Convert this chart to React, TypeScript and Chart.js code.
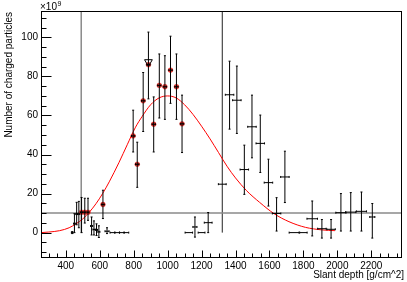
import React, { useEffect, useRef } from 'react';
import { Chart, registerables } from 'chart.js';

Chart.register(...registerables);

// ---- axis ranges & tick labels ----
const X_MIN = 254;
const X_MAX = 2378;
const Y_MIN = -13;
const Y_MAX = 113.5;
const xTickValues = [400, 600, 800, 1000, 1200, 1400, 1600, 1800, 2000, 2200];
const yTickValues = [0, 20, 40, 60, 80, 100];
const xMinorStep = 50;
const yMinorStep = 5;
const xTitle = 'Slant depth [g/cm^2]';
const yTitle = 'Number of charged particles';

// ---- black points (no marker): x, y, x half-error, y lower bound, y upper bound ----
const blackX = [438, 451, 464, 477, 552, 566, 581, 595, 643, 675, 703, 730, 757, 1125, 1161, 1200, 1239, 1322, 1365, 1408, 1452, 1497, 1546, 1594, 1642, 1691, 1745, 1800, 1852, 1909, 1963, 2021, 2079, 2142, 2206];
const blackY = [0, 4.6, 9.5, 9.5, 3.4, 1.6, 1.4, 0.4, 0.7, 0, 0, 0, 0, 0, 2.9, 0, 5.1, 24.8, 70.6, 67.8, 32.3, 54.2, 45.7, 25.6, 9.8, 28.5, 0, 0, 7.1, 2.0, 1.7, 10.2, 10.5, 10.9, 8];
const blackXErr = [5, 5, 5, 5, 6, 6, 6, 6, 12, 14, 14, 14, 14, 22, 12, 20, 23, 23, 25, 25, 25, 25, 25, 25, 25, 25, 29, 22, 31, 25, 25, 30, 30, 30, 15];
const blackYLow = [-0.5, 0, 4, 2.5, -1.2, -1.2, -1.5, -2.5, -0.5, 0, 0, 0, 0, 0, -2.3, 0, 0, 24.8, 53, 50.8, 19.6, 38.3, 30.8, 13.6, 0.8, 15.4, 0, 0, -1.7, -2.8, -2.8, 0.8, 0.8, 0.8, -2.8];
const blackYHigh = [0.5, 9.7, 15.5, 16, 8, 6, 4.5, 3.5, 2.5, 0, 0, 0, 0, 0, 8, 0, 10.3, 24.8, 87.8, 85.3, 44.8, 70.4, 60.2, 37.6, 17.9, 41.7, 0, 0, 16.2, 6.7, 6.7, 20, 20.5, 20.8, 14.9];

// ---- red points (selected, red marker) ----
const redX = [493, 512, 531, 619, 797, 821, 856, 887, 918, 951, 984, 1017, 1052, 1085];
const redY = [10.4, 10.4, 10.4, 14.4, 49.5, 35, 67.5, 86.0, 55.5, 75.4, 74.7, 83.2, 74.7, 55.7];
const redXErr = [6, 6, 6, 8, 10, 10, 10, 10, 10, 10, 10, 10, 10, 10];
const redYLow = [0, 4.9, 6.3, 7.2, 41.3, 23.2, 51.8, 68.5, 41.3, 58.7, 58, 66.2, 58, 41];
const redYHigh = [18, 17.6, 17.6, 21.7, 62.7, 46.3, 82, 102.7, 69.5, 91.5, 90.6, 100.6, 91.5, 70.4];

// ---- open triangle marker ----
const triX = [887];
const triY = [87.4];

// ---- fitted curve ----
const fitX = [254, 300, 364, 420, 460, 500, 539, 578, 617, 656, 714, 762, 811, 850, 900, 950, 1000, 1050, 1100, 1150, 1200, 1250, 1300, 1350, 1400, 1465, 1542, 1629, 1715, 1812, 1908, 1986];
const fitY = [0, 0.3, 1, 2.5, 4.5, 7, 10.5, 14.8, 20, 26, 36, 45, 54, 59.5, 65.5, 69, 70, 69, 65.5, 60.5, 54.5, 48, 41, 34, 28, 21.5, 15.5, 9.6, 5.6, 2.7, 1.4, 1.0];

// ---- cut lines ----
const cutLineY = 10;
const cutLineX1 = 491;
const cutLineX2 = 1322;
const cutLineBottom = 0;

const FONT = '"Liberation Sans", Arial, Helvetica, sans-serif';

function makePoints(xs: number[], ys: number[], xe: number[], yl: number[], yh: number[]) {
  return xs.map((x, i) => ({ x, y: ys[i], xe: xe[i], yl: yl[i], yh: yh[i] }));
}

const rootPlugin = {
  id: 'rootStyle',
  afterDatasetsDraw(chart: any) {
    const { ctx, chartArea: ca, scales } = chart;
    const xs = scales.x;
    const ys = scales.y;

    // error bars
    ctx.save();
    ctx.beginPath();
    ctx.rect(ca.left, ca.top, ca.right - ca.left, ca.bottom - ca.top);
    ctx.clip();
    ctx.strokeStyle = '#000';
    ctx.lineWidth = 1;
    chart.data.datasets.forEach((ds: any) => {
      if (!ds.errorBars) return;
      ds.data.forEach((p: any) => {
        const px = xs.getPixelForValue(p.x);
        const py = ys.getPixelForValue(p.y);
        const x1 = xs.getPixelForValue(p.x - p.xe);
        const x2 = xs.getPixelForValue(p.x + p.xe);
        const y1 = ys.getPixelForValue(p.yl);
        const y2 = ys.getPixelForValue(p.yh);
        ctx.beginPath();
        ctx.moveTo(x1, py);
        ctx.lineTo(x2, py);
        if (Math.abs(y1 - y2) > 0.5) {
          ctx.moveTo(px, y1);
          ctx.lineTo(px, y2);
          ctx.moveTo(px - 1, y1);
          ctx.lineTo(px + 1, y1);
          ctx.moveTo(px - 1, y2);
          ctx.lineTo(px + 1, y2);
        }
        ctx.moveTo(x1, py - 1);
        ctx.lineTo(x1, py + 1);
        ctx.moveTo(x2, py - 1);
        ctx.lineTo(x2, py + 1);
        ctx.stroke();
      });
    });
    ctx.restore();

    // frame
    const L = Math.round(ca.left) + 0.5;
    const R = Math.round(ca.right) - 0.5;
    const T = Math.round(ca.top) + 0.5;
    const B = Math.round(ca.bottom) - 0.5;
    ctx.save();
    ctx.strokeStyle = '#000';
    ctx.lineWidth = 1;
    ctx.strokeRect(L, T, R - L, B - T);

    // x ticks
    ctx.beginPath();
    for (let v = Math.ceil(X_MIN / xMinorStep) * xMinorStep; v <= X_MAX; v += xMinorStep) {
      const px = Math.round(xs.getPixelForValue(v)) + 0.5;
      const major = xTickValues.includes(v);
      ctx.moveTo(px, B);
      ctx.lineTo(px, B - (major ? 7 : 4));
    }
    // y ticks
    for (let v = Math.ceil(Y_MIN / yMinorStep) * yMinorStep; v <= Y_MAX; v += yMinorStep) {
      const py = Math.round(ys.getPixelForValue(v)) + 0.5;
      const major = yTickValues.includes(v);
      ctx.moveTo(L, py);
      ctx.lineTo(L + (major ? 10 : 5), py);
    }
    ctx.stroke();

    // titles
    ctx.fillStyle = '#000';
    ctx.font = `10px ${FONT}`;
    ctx.textAlign = 'right';
    ctx.textBaseline = 'alphabetic';
    ctx.fillText(xTitle, 404, 278);

    ctx.save();
    ctx.translate(9, 12);
    ctx.rotate(-Math.PI / 2);
    ctx.textAlign = 'right';
    ctx.textBaseline = 'middle';
    ctx.fillText(yTitle, 0, 0);
    ctx.restore();

    // exponent label
    ctx.textAlign = 'left';
    ctx.textBaseline = 'alphabetic';
    ctx.font = `10px ${FONT}`;
    ctx.fillText('\u00d710', 40, 10);
    const w = ctx.measureText('\u00d710').width;
    ctx.font = `7px ${FONT}`;
    ctx.fillText('9', 40 + w + 0.5, 6);
    ctx.restore();
  },
};

export default function App() {
  const ref = useRef<HTMLCanvasElement | null>(null);

  useEffect(() => {
    document.body.style.margin = '0';
    const canvas = ref.current;
    if (!canvas) return;

    const blackPts = makePoints(blackX, blackY, blackXErr, blackYLow, blackYHigh);
    const redPts = makePoints(redX, redY, redXErr, redYLow, redYHigh);
    const triPts = triX.map((x, i) => ({ x, y: triY[i] }));
    const fitPts = fitX.map((x, i) => ({ x, y: fitY[i] }));

    const chart = new Chart(canvas, {
      type: 'scatter',
      data: {
        datasets: [
          {
            label: 'triangle',
            data: triPts,
            pointStyle: 'triangle',
            rotation: 180,
            pointRadius: 4.5,
            pointBackgroundColor: 'rgba(0,0,0,0)',
            pointBorderColor: '#000',
            pointBorderWidth: 1,
            showLine: false,
          } as any,
          {
            label: 'selected',
            data: redPts,
            pointRadius: 2.4,
            pointBackgroundColor: '#e8302a',
            pointBorderColor: '#e8302a',
            pointBorderWidth: 0.5,
            showLine: false,
            errorBars: true,
          } as any,
          {
            label: 'all',
            data: blackPts,
            pointRadius: 0,
            showLine: false,
            errorBars: true,
          } as any,
          {
            label: 'fit',
            data: fitPts,
            showLine: true,
            borderColor: '#ff0000',
            borderWidth: 1,
            pointRadius: 0,
            cubicInterpolationMode: 'monotone',
            fill: false,
          } as any,
          {
            label: 'cutH',
            data: [{ x: X_MIN, y: cutLineY }, { x: X_MAX, y: cutLineY }],
            showLine: true,
            borderColor: '#8a8a8a',
            borderWidth: 1.5,
            pointRadius: 0,
          } as any,
          {
            label: 'cutV1',
            data: [{ x: cutLineX1, y: cutLineBottom }, { x: cutLineX1, y: Y_MAX }],
            showLine: true,
            borderColor: '#8a8a8a',
            borderWidth: 1.5,
            pointRadius: 0,
          } as any,
          {
            label: 'cutV2',
            data: [{ x: cutLineX2, y: cutLineBottom }, { x: cutLineX2, y: Y_MAX }],
            showLine: true,
            borderColor: '#222',
            borderWidth: 1,
            pointRadius: 0,
          } as any,
        ],
      },
      options: {
        animation: false,
        responsive: false,
        events: [],
        layout: { padding: { left: 0, top: 11, right: 1.5, bottom: 0 } },
        plugins: {
          legend: { display: false },
          tooltip: { enabled: false },
          title: { display: false },
        },
        scales: {
          x: {
            type: 'linear',
            min: X_MIN,
            max: X_MAX,
            grid: { display: false, drawTicks: false },
            border: { display: false },
            afterBuildTicks: (s: any) => {
              s.ticks = xTickValues.map((v) => ({ value: v }));
            },
            afterFit: (s: any) => {
              s.height = 24;
            },
            ticks: {
              autoSkip: false,
              maxRotation: 0,
              padding: 2,
              color: '#000',
              font: { family: FONT, size: 10 },
              callback: (v: any) => String(v),
            },
          },
          y: {
            type: 'linear',
            min: Y_MIN,
            max: Y_MAX,
            grid: { display: false, drawTicks: false },
            border: { display: false },
            afterBuildTicks: (s: any) => {
              s.ticks = yTickValues.map((v) => ({ value: v }));
            },
            afterFit: (s: any) => {
              s.width = 41;
            },
            ticks: {
              autoSkip: false,
              padding: 3,
              color: '#000',
              font: { family: FONT, size: 10 },
              callback: (v: any) => String(v),
            },
          },
        },
      } as any,
      plugins: [rootPlugin],
    });

    return () => {
      chart.destroy();
    };
  }, []);

  return (
    <div style={{ width: 407, height: 282, position: 'relative' }}>
      <canvas ref={ref} width={407} height={282} style={{ display: 'block', width: 407, height: 282 }} />
    </div>
  );
}
